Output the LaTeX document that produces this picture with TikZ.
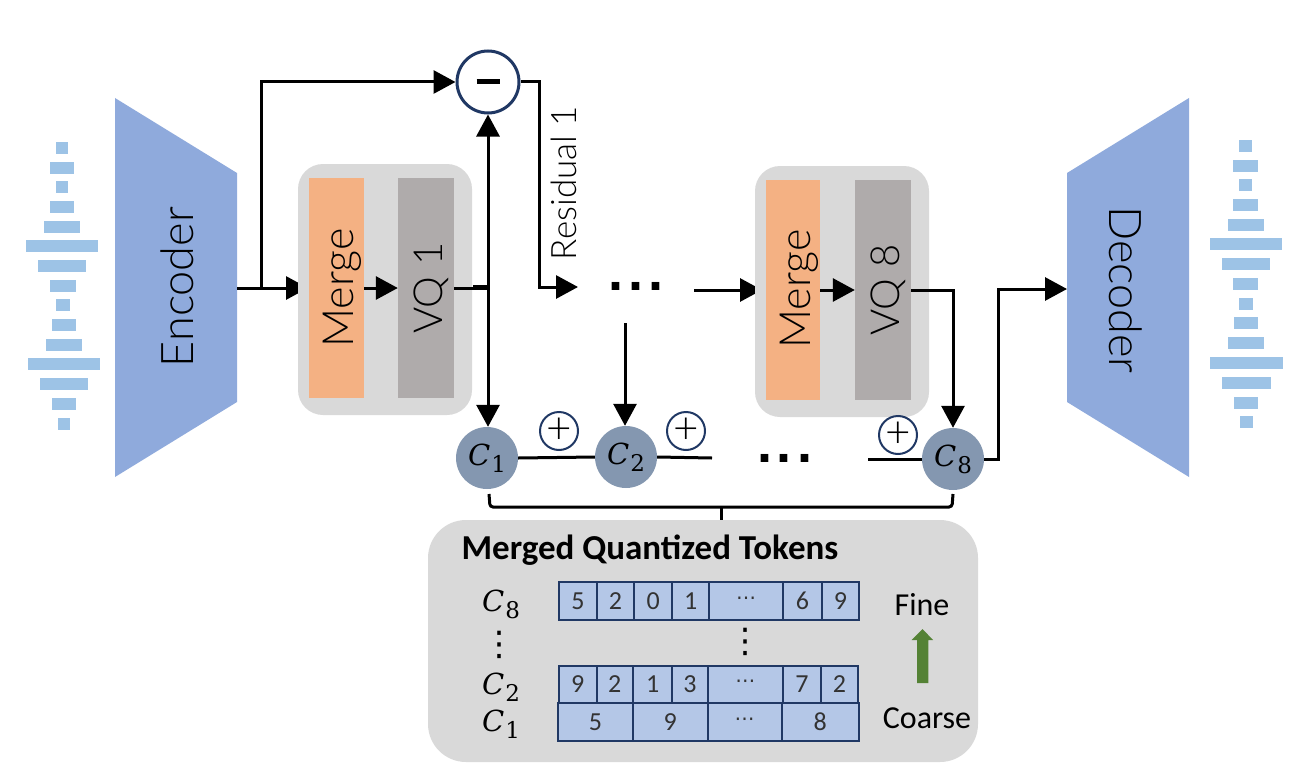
\documentclass[tikz,border=0pt]{standalone}
\usepackage[no-math]{fontspec}
\setmainfont{Carlito}
\newfontfamily\lightf[UprightFont={* Light}]{Lato}
\newfontfamily\dotf{Liberation Sans Bold}
\newfontfamily\symf{DejaVu Sans}
\newfontfamily\serf{DejaVu Serif}
\usetikzlibrary{arrows.meta}
\definecolor{trap}{HTML}{8FAADC}
\definecolor{wave}{HTML}{9DC3E6}
\definecolor{panel}{HTML}{D9D9D9}
\definecolor{mergec}{HTML}{F4B183}
\definecolor{vqc}{HTML}{AFABAB}
\definecolor{codec}{HTML}{8497B0}
\definecolor{cellc}{HTML}{B4C7E7}
\definecolor{navy}{HTML}{203864}
\definecolor{arrowg}{HTML}{548235}
\newcommand{\fs}[1]{\fontsize{#1}{#1}\selectfont}
\newcommand{\cvar}[1]{{\serf\fs{29}\itshape C}\kern1pt\raisebox{-7pt}{\serf\fs{23}#1}}
\newcommand{\hdots}{{\symf\fs{20}⋯}}
\tikzset{
 x=1pt,y=-1pt,
 conn/.style={line width=3pt,black},
 arr/.style={conn,-{Triangle[length=22pt,width=23pt]}},
 dblarr/.style={conn,{Triangle[length=22pt,width=23pt]}-{Triangle[length=22pt,width=23pt]}},
 wavebar/.style={fill=wave,draw=none},
 panelbox/.style={fill=panel,draw=none,rounded corners=25pt},
 codenode/.style={circle,fill=codec,minimum size=62pt,inner sep=0pt},
 pluscirc/.style={circle,draw=navy,line width=2pt,fill=white,minimum size=38pt,inner sep=0pt,font=\lightf\fs{44}},
 cell/.style={fill=cellc,draw=navy,line width=2pt},
 celltxt/.style={font=\fs{26},text=black!80,inner sep=0pt},
 vtxt/.style={font=\lightf,inner sep=0pt,anchor=base},
 tok/.style={inner sep=0pt},
}
\begin{document}
\begin{tikzpicture}
\useasboundingbox (0,0) rectangle (1308,765);
% encoder / decoder
\fill[trap] (115,98) -- (237,173) -- (237,402) -- (115,477) -- cycle;
\fill[trap] (1189,98) -- (1067,173) -- (1067,402) -- (1189,477) -- cycle;
\node[vtxt,rotate=90] (enc) at (193,287) {\fs{45}Encoder};
\node[vtxt,rotate=-90] (dec) at (1109,290) {\fs{45}Decoder};
% waves
\foreach \a/\b/\t in {56/68.3/142.3,50.3/74/161.7,56/68.3/181.3,50.3/74/201,44.3/80.3/220.7,26.3/98/240.3,38.3/86/260,50.3/76/279.7,56/70/299.3,51.7/76/319,45.7/82/338.7,27.7/100/358.3,39.7/88/378.3,51.7/76/398,57.7/70/417.7}
  \fill[wavebar] (\a,\t) rectangle (\b,\t+12);
\foreach \a/\b/\t in {1239.3/1251.7/140,1233.3/1257.7/159.7,1239.3/1251.7/179.3,1233.3/1257.7/199,1227.7/1263.7/218.7,1209.7/1281.7/238.3,1221.7/1270/258.3,1233.3/1258.3/278,1239.3/1252.7/297.7,1234.3/1258.3/317.3,1228.3/1264.3/337.3,1210.3/1282.7/357,1222.3/1270.7/377,1234.3/1258.3/396.7,1240.3/1252.7/416.3}
  \fill[wavebar] (\a,\t) rectangle (\b,\t+12);
% arrows whose tips the panels cover
\coordinate (in1) at (237,288);
\coordinate (br) at (261,288);
\coordinate (in1end) at (308,288);
\coordinate (mid) at (694,290);
\coordinate (midend) at (762,290);
\draw[arr] (in1) -- (in1end);
\draw[arr] (mid) -- (midend);
% panels
\fill[panelbox] (298,164) rectangle (472,415);
\fill[panelbox] (755,166) rectangle (929,417);
\fill[panelbox,rounded corners=38pt] (428,520) rectangle (978,762);
% blocks
\node[fill=mergec,minimum width=55pt,minimum height=220pt,inner sep=0pt] (m1) at (336.5,288) {};
\node[fill=vqc,minimum width=56pt,minimum height=220pt,inner sep=0pt] (v1) at (426,288) {};
\node[fill=mergec,minimum width=54pt,minimum height=220pt,inner sep=0pt] (m8) at (793,290) {};
\node[fill=vqc,minimum width=56pt,minimum height=220pt,inner sep=0pt] (v8) at (883,290) {};
\node[vtxt,rotate=90] at (353.5,288) {\fs{43}Merge};
\node[vtxt,rotate=90] at (442,288) {\fs{40}VQ 1};
\node[vtxt,rotate=90] at (810,289) {\fs{43}Merge};
\node[vtxt,rotate=90] at (899,290) {\fs{40}VQ 8};
% minus
\node[circle,draw=navy,line width=3pt,fill=white,minimum size=62pt,inner sep=0pt] (minus) at (488,82) {\rule{23pt}{5pt}};
% code nodes
\node[codenode] (c1) at (487,458) {\cvar{1}};
\node[codenode] (c2) at (626,457) {\cvar{2}};
\node[codenode] (c8) at (953,459) {\cvar{8}};
\node[pluscirc] (p1) at (559,431) {+};
\node[pluscirc] (p2) at (686,431) {+};
\node[pluscirc] (p3) at (898,435) {+};
% connectors
\draw[arr] (br) -- (261,82) -- (minus.west);
\draw[arr] (m1.east) -- (v1.west);
\draw[conn] (v1.east) -- (488,288);
\draw[line width=5pt] (473,287.5) -- (490,287.5);
\draw[dblarr] (minus.south) -- (c1.north -| minus.south);
\coordinate (res) at (578,287);
\draw[arr] (minus.east) -- (539,82) -- (539,287) -- (res);
\node[font=\dotf,inner sep=0pt,anchor=base] (d1) at (636,290) {\fs{54}.\kern5pt.\kern5pt.};
\coordinate (mid2) at (625,323);
\draw[arr] (mid2) -- (c2.north -| mid2);
\draw[arr] (m8.east) -- (v8.west);
\draw[arr] (v8.east) -- (953,290) -- (c8.north);
\draw[arr] (c8.east) -- (998,459) -- (998,289) -- (1067,289);
\draw[conn] (c1.east) -- (c2.west);
\coordinate (e2) at (712,458);
\coordinate (s8) at (868,459);
\draw[conn] (c2.east) -- (e2);
\draw[conn] (s8) -- (c8.west);
\node[font=\dotf,inner sep=0pt,anchor=base] (d2) at (784.5,462) {\fs{54}.\kern5pt.\kern5pt.};
\node[vtxt,rotate=90] (resid) at (576,183) {\fs{35}Residual 1};
% brace
\coordinate (bl) at (489,494);
\coordinate (br2) at (953,494);
\draw[line width=3pt,rounded corners=3pt] (bl) -- (490,507) -- (952,507) -- (br2);
\draw[line width=3pt] (721.5,507) -- (721.5,520);
% token panel
\node[font=\fs{35}\bfseries,inner sep=0pt] (title) at (650,550) {Merged Quantized Tokens};
\foreach \a/\b/\t in {559/597/5,597/634/2,634/672.4/0,672.4/709/1,709/783/\hdots,783/822/6,822/859/9}{
  \draw[cell] (\a,582) rectangle (\b,620);
  \node[celltxt] at ({(\a+\b)/2},601) {\t};}
\foreach \a/\b/\t in {559/596.5/9,596.5/633/2,633/672.4/1,672.4/707.5/3,707.5/783/\hdots,783/821/7,821/858/2}{
  \draw[cell] (\a,665.7) rectangle (\b,702.7);
  \node[celltxt] at ({(\a+\b)/2},684) {\t};}
\foreach \a/\b/\t in {558/633/5,633/707.5/9,707.5/781.6/\hdots,781.6/859/8}{
  \draw[cell] (\a,702.7) rectangle (\b,740.7);
  \node[celltxt] at ({(\a+\b)/2},722) {\t};}
\node[tok] (l8) at (501,604) {\cvar{8}};
\node[tok] (l2) at (501,687) {\cvar{2}};
\node[tok] (l1) at (501,724) {\cvar{1}};
\node[inner sep=0pt,font=\symf\fs{34}] (v1d) at (499,645) {⋮};
\node[inner sep=0pt,font=\symf\fs{34}] (v2d) at (745,642) {⋮};
\node[inner sep=0pt,font=\fs{32}] (fine) at (922,605) {Fine};
\node[inner sep=0pt,font=\fs{32}] (coarse) at (927,718) {Coarse};
\fill[arrowg] (917,683) -- (917,640) -- (911.6,640) -- (922.5,629) -- (933,640) -- (928.4,640) -- (928.4,683) -- cycle;
\end{tikzpicture}
\end{document}
